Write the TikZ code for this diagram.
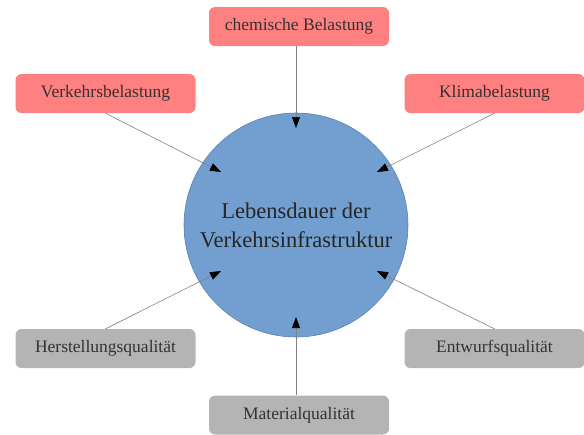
\documentclass[tikz,border=0pt]{standalone}
\usepackage{fontspec}
\setmainfont{Liberation Serif}
\usetikzlibrary{arrows.meta}
\definecolor{loadred}{HTML}{FF8080}
\definecolor{qualgray}{HTML}{B4B4B4}
\definecolor{lifeblue}{HTML}{729FCF}
\definecolor{lifeedge}{HTML}{5A82AE}
\definecolor{textdark}{HTML}{333333}
\begin{document}
\begin{tikzpicture}[
    x=1pt,
    y=-1pt,
    box/.style={
      rounded corners=6pt,
      minimum width=180pt,
      minimum height=39pt,
      inner sep=0pt,
      text=textdark,
      font=\fontsize{17.5}{21}\selectfont
    },
    load/.style={box, fill=loadred},
    qual/.style={box, fill=qualgray},
    link/.style={
      draw=gray,
      line width=0.6pt,
      -{Triangle[length=11pt, width=8pt, fill=black, color=black]}
    }
  ]
    \useasboundingbox (0, 0) rectangle (584, 434);

    \node[circle, fill=lifeblue, draw=lifeedge, line width=0.6pt,
      minimum size=224pt, align=center, text=black!85,
      font=\fontsize{22.5}{29}\selectfont] (life) at (296, 225)
      {Lebensdauer der\\Verkehrsinfrastruktur};

    \node[load] (chem) at (299, 26.5) {chemische Belastung};
    \node[load] (traffic) at (105.5, 93.5) {Verkehrsbelastung};
    \node[load] (climate) at (494.5, 93.5) {Klimabelastung};
    \node[qual] (build) at (105.5, 348.5) {Herstellungsqualität};
    \node[qual] (design) at (494.5, 348.5) {Entwurfsqualität};
    \node[qual] (material) at (299, 415) {Materialqualität};

    \coordinate (inN) at (296, 128);
    \coordinate (inNW) at (221, 172);
    \coordinate (inNE) at (377, 172);
    \coordinate (inSW) at (221, 271);
    \coordinate (inSE) at (377, 271);
    \coordinate (inS) at (296, 317);

    \draw[link] (chem.south -| inN) to (inN);
    \draw[link] (traffic.south) to (inNW);
    \draw[link] (climate.south) to (inNE);
    \draw[link] (build.north) to (inSW);
    \draw[link] (design.north) to (inSE);
    \draw[link] (material.north -| inS) to (inS);
  \end{tikzpicture}
\end{document}
